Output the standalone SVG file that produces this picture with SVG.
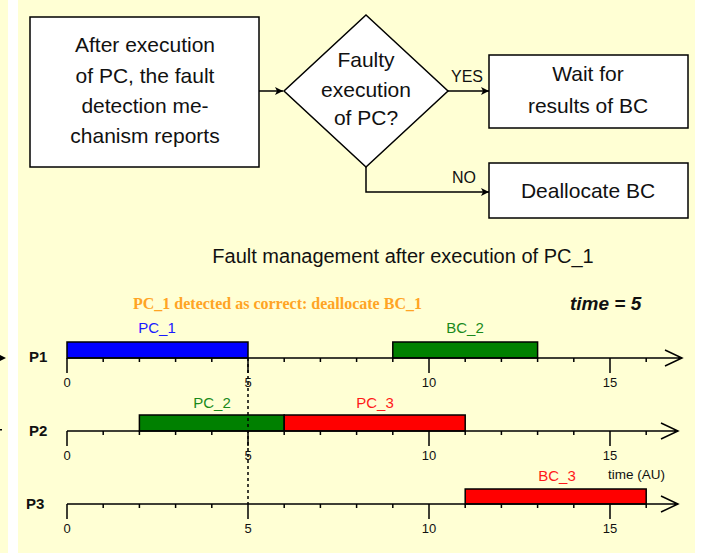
<svg xmlns="http://www.w3.org/2000/svg" width="708" height="553" viewBox="0 0 708 553">
<defs>
<style>
.bg{fill:#FFFFD4}
.box{fill:#fff;stroke:#000;stroke-width:1.5}
.ln{fill:none;stroke:#000;stroke-width:1.5}
.t{font-family:"Liberation Sans",Arial,sans-serif;fill:#111}
.big{font-size:21px;text-anchor:middle}
.lbl{font-size:16px}
.ax{font-size:13px;text-anchor:middle}
.bar{stroke:#000;stroke-width:1.5}
.bl{font-size:15px;text-anchor:middle}
.pl{font-size:15px;font-weight:bold}
</style>
<marker id="ah" viewBox="0 0 10 10" refX="10" refY="5" markerWidth="8" markerHeight="8" markerUnits="userSpaceOnUse" orient="auto">
<path d="M0,0 L10,5 L0,10 L2.5,5 Z" fill="#000"/>
</marker>
</defs>
<rect x="0" y="0" width="708" height="553" fill="#fff"/>
<rect class="bg" x="0" y="0" width="8" height="553"/>
<rect class="bg" x="18" y="0" width="677" height="553"/>
<path d="M0,355 L6,358 L0,361 Z" fill="#000"/>
<rect x="0" y="429" width="2" height="1.5" fill="#000"/>

<g id="n-report">
<rect class="box" x="30" y="17" width="229" height="150"/>
<text class="t big" x="145" y="52">After execution</text>
<text class="t big" x="145" y="83">of PC, the fault</text>
<text class="t big" x="145" y="113">detection me-</text>
<text class="t big" x="145" y="143">chanism reports</text>
</g>
<g id="n-decision">
<path class="box" d="M366,15 L448,91 L366,167 L284,91 Z"/>
<text class="t big" x="366" y="67">Faulty</text>
<text class="t big" x="366" y="97">execution</text>
<text class="t big" x="366" y="125">of PC?</text>
</g>
<g id="n-wait">
<rect class="box" x="489" y="55" width="199" height="73"/>
<text class="t big" x="588" y="81">Wait for</text>
<text class="t big" x="588" y="113">results of BC</text>
</g>
<g id="n-dealloc">
<rect class="box" x="489" y="163" width="199" height="55"/>
<text class="t big" x="588" y="198">Deallocate BC</text>
</g>
<g id="connectors">
<path class="ln" d="M259,91 H283" marker-end="url(#ah)"/>
<path class="ln" d="M448,91 H489" marker-end="url(#ah)"/>
<path class="ln" d="M366,167 V192 H489" marker-end="url(#ah)"/>
<text class="t lbl" x="451" y="82">YES</text>
<text class="t lbl" x="452" y="183">NO</text>
</g>

<text class="t" x="403" y="263" font-size="20" text-anchor="middle">Fault management after execution of PC_1</text>

<g id="timeline">
<text x="133" y="309" font-family="'Liberation Serif','Times New Roman',serif" font-weight="bold" font-size="16" fill="#FFA424">PC_1 detected as correct: deallocate BC_1</text>
<text class="t" x="570" y="310" font-size="19" font-weight="bold" font-style="italic">time = 5</text>

<rect class="bar" x="67" y="342" width="181" height="16" fill="#0000FF"/>
<rect class="bar" x="392.8" y="342" width="144.8" height="16" fill="#008000"/>
<rect class="bar" x="139.4" y="415" width="144.8" height="16" fill="#008000"/>
<rect class="bar" x="284.2" y="415" width="181" height="16" fill="#FF0000"/>
<rect class="bar" x="465.2" y="489" width="181" height="15" fill="#FF0000"/>

<text class="t bl" x="157" y="333" style="fill:#1a1aff">PC_1</text>
<text class="t bl" x="465" y="333" style="fill:#1a8a1a">BC_2</text>
<text class="t bl" x="212" y="408" style="fill:#1a8a1a">PC_2</text>
<text class="t bl" x="375" y="408" style="fill:#ff1a1a">PC_3</text>
<text class="t bl" x="557" y="481" style="fill:#ff1a1a">BC_3</text>
<text class="t" x="608" y="479" font-size="13.5">time (AU)</text>

<text class="t pl" x="29" y="362">P1</text>
<text class="t pl" x="29" y="436">P2</text>
<text class="t pl" x="26" y="509">P3</text>

<path class="ln" d="M67,358 H682 M665,350 L682,358 L665,366"/>
<path class="ln" d="M67,431 H678 M661,423 L678,431 L661,439"/>
<path class="ln" d="M67,504 H678 M661,496 L678,504 L661,512"/>
<g class="ln">
<path d="M67,358 v15 M103.2,358 v4 M139.4,358 v4 M175.6,358 v4 M211.8,358 v4 M248,358 v15 M284.2,358 v4 M320.4,358 v4 M356.6,358 v4 M392.8,358 v4 M429,358 v15 M465.2,358 v4 M501.4,358 v4 M537.6,358 v4 M573.8,358 v4 M610,358 v15 M646.2,358 v4"/>
<path d="M67,431 v15 M103.2,431 v4 M139.4,431 v4 M175.6,431 v4 M211.8,431 v4 M248,431 v15 M284.2,431 v4 M320.4,431 v4 M356.6,431 v4 M392.8,431 v4 M429,431 v15 M465.2,431 v4 M501.4,431 v4 M537.6,431 v4 M573.8,431 v4 M610,431 v15 M646.2,431 v4"/>
<path d="M67,504 v15 M103.2,504 v4 M139.4,504 v4 M175.6,504 v4 M211.8,504 v4 M248,504 v15 M284.2,504 v4 M320.4,504 v4 M356.6,504 v4 M392.8,504 v4 M429,504 v15 M465.2,504 v4 M501.4,504 v4 M537.6,504 v4 M573.8,504 v4 M610,504 v15 M646.2,504 v4"/>
</g>
<g class="t ax">
<text x="67" y="387">0</text><text x="248" y="387">5</text><text x="429" y="387">10</text><text x="610" y="387">15</text>
<text x="67" y="460">0</text><text x="248" y="460">5</text><text x="429" y="460">10</text><text x="610" y="460">15</text>
<text x="67" y="533">0</text><text x="248" y="533">5</text><text x="429" y="533">10</text><text x="610" y="533">15</text>
</g>
<path d="M248,358 V504" fill="none" stroke="#000" stroke-width="1.5" stroke-dasharray="3 3"/>
</g>
</svg>
